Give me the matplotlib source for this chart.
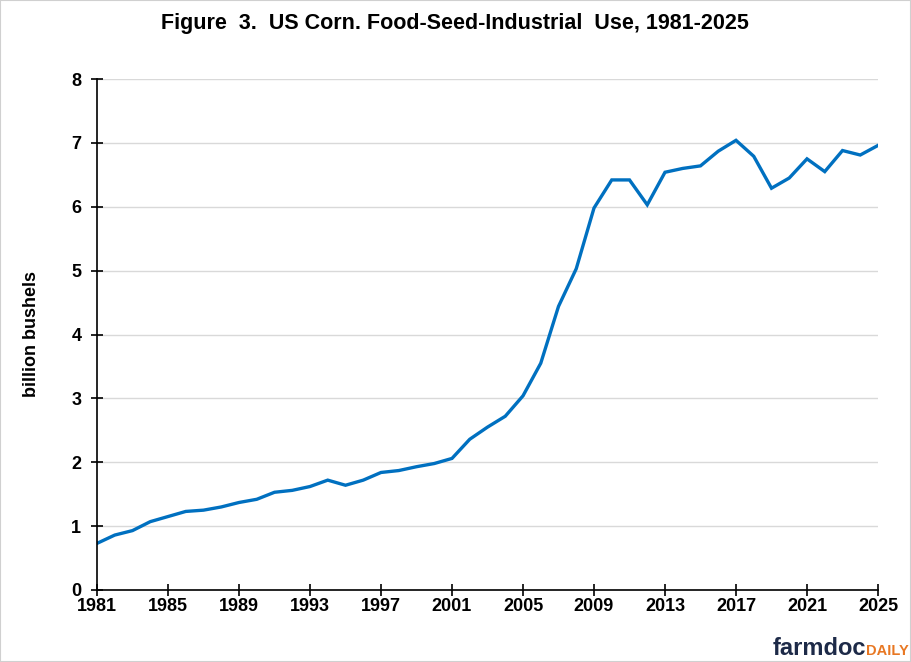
import matplotlib
matplotlib.use("Agg")
import matplotlib.pyplot as plt
from matplotlib.patches import Rectangle

years = list(range(1981, 2026))
fsi_use = [0.73, 0.86, 0.93, 1.07, 1.15, 1.23, 1.25, 1.30, 1.37, 1.42,
           1.53, 1.56, 1.62, 1.72, 1.64, 1.72, 1.84, 1.87, 1.93, 1.98,
           2.06, 2.36, 2.55, 2.72, 3.04, 3.55, 4.44, 5.03, 5.98, 6.42,
           6.42, 6.03, 6.54, 6.60, 6.64, 6.87, 7.04, 6.79, 6.29, 6.45,
           6.75, 6.55, 6.88, 6.81, 6.96]
x_ticks = list(range(1981, 2026, 4))
y_ticks = list(range(0, 9))

plt.rcParams['font.family'] = ['Liberation Sans', 'DejaVu Sans']

fig = plt.figure(figsize=(9.11, 6.62), dpi=100)
ax = fig.add_axes([97/911, 1 - 590/662, (878-97)/911, (590-79)/662])

ax.plot(years, fsi_use, color='#0070C0', lw=2.4, solid_joinstyle='miter')
ax.set_xlim(1981, 2025)
ax.set_ylim(0, 8)
ax.set_xticks(x_ticks)
ax.set_yticks(y_ticks)
ax.grid(axis='y', color='#d9d9d9', lw=1)
ax.set_axisbelow(True)
for s in ['top', 'right']:
    ax.spines[s].set_visible(False)
for s in ['left', 'bottom']:
    ax.spines[s].set_color('black')
    ax.spines[s].set_linewidth(1.2)
ax.tick_params(axis='x', direction='inout', length=9, width=1.2, labelsize=13, pad=1)
ax.tick_params(axis='y', direction='inout', length=8.6, width=1.2, labelsize=13, pad=7)
for lab in ax.get_xticklabels() + ax.get_yticklabels():
    lab.set_fontweight('bold')

fig.text(32/911, 1 - 334/662, 'billion bushels', rotation=90, ha='center', va='center',
         fontsize=13, fontweight='bold')
fig.text(455/911, 1 - 24/662, 'Figure  3.  US Corn. Food-Seed-Industrial  Use, 1981-2025',
         ha='center', va='center', fontsize=15.5, fontweight='bold')

fig.text(866/911, 1 - 655/662, 'farmdoc', ha='right', va='baseline', fontsize=17,
         fontweight='bold', color='#1D2A48')
fig.text(866/911, 1 - 655/662, 'DAILY', ha='left', va='baseline', fontsize=10.5,
         fontweight='bold', color='#E87722')

fig.patches.append(Rectangle((0, 0), 1, 1, transform=fig.transFigure, fill=False,
                             edgecolor='#d0d0d0', lw=1.5))
fig.savefig('out.png', dpi=100, facecolor='white')
